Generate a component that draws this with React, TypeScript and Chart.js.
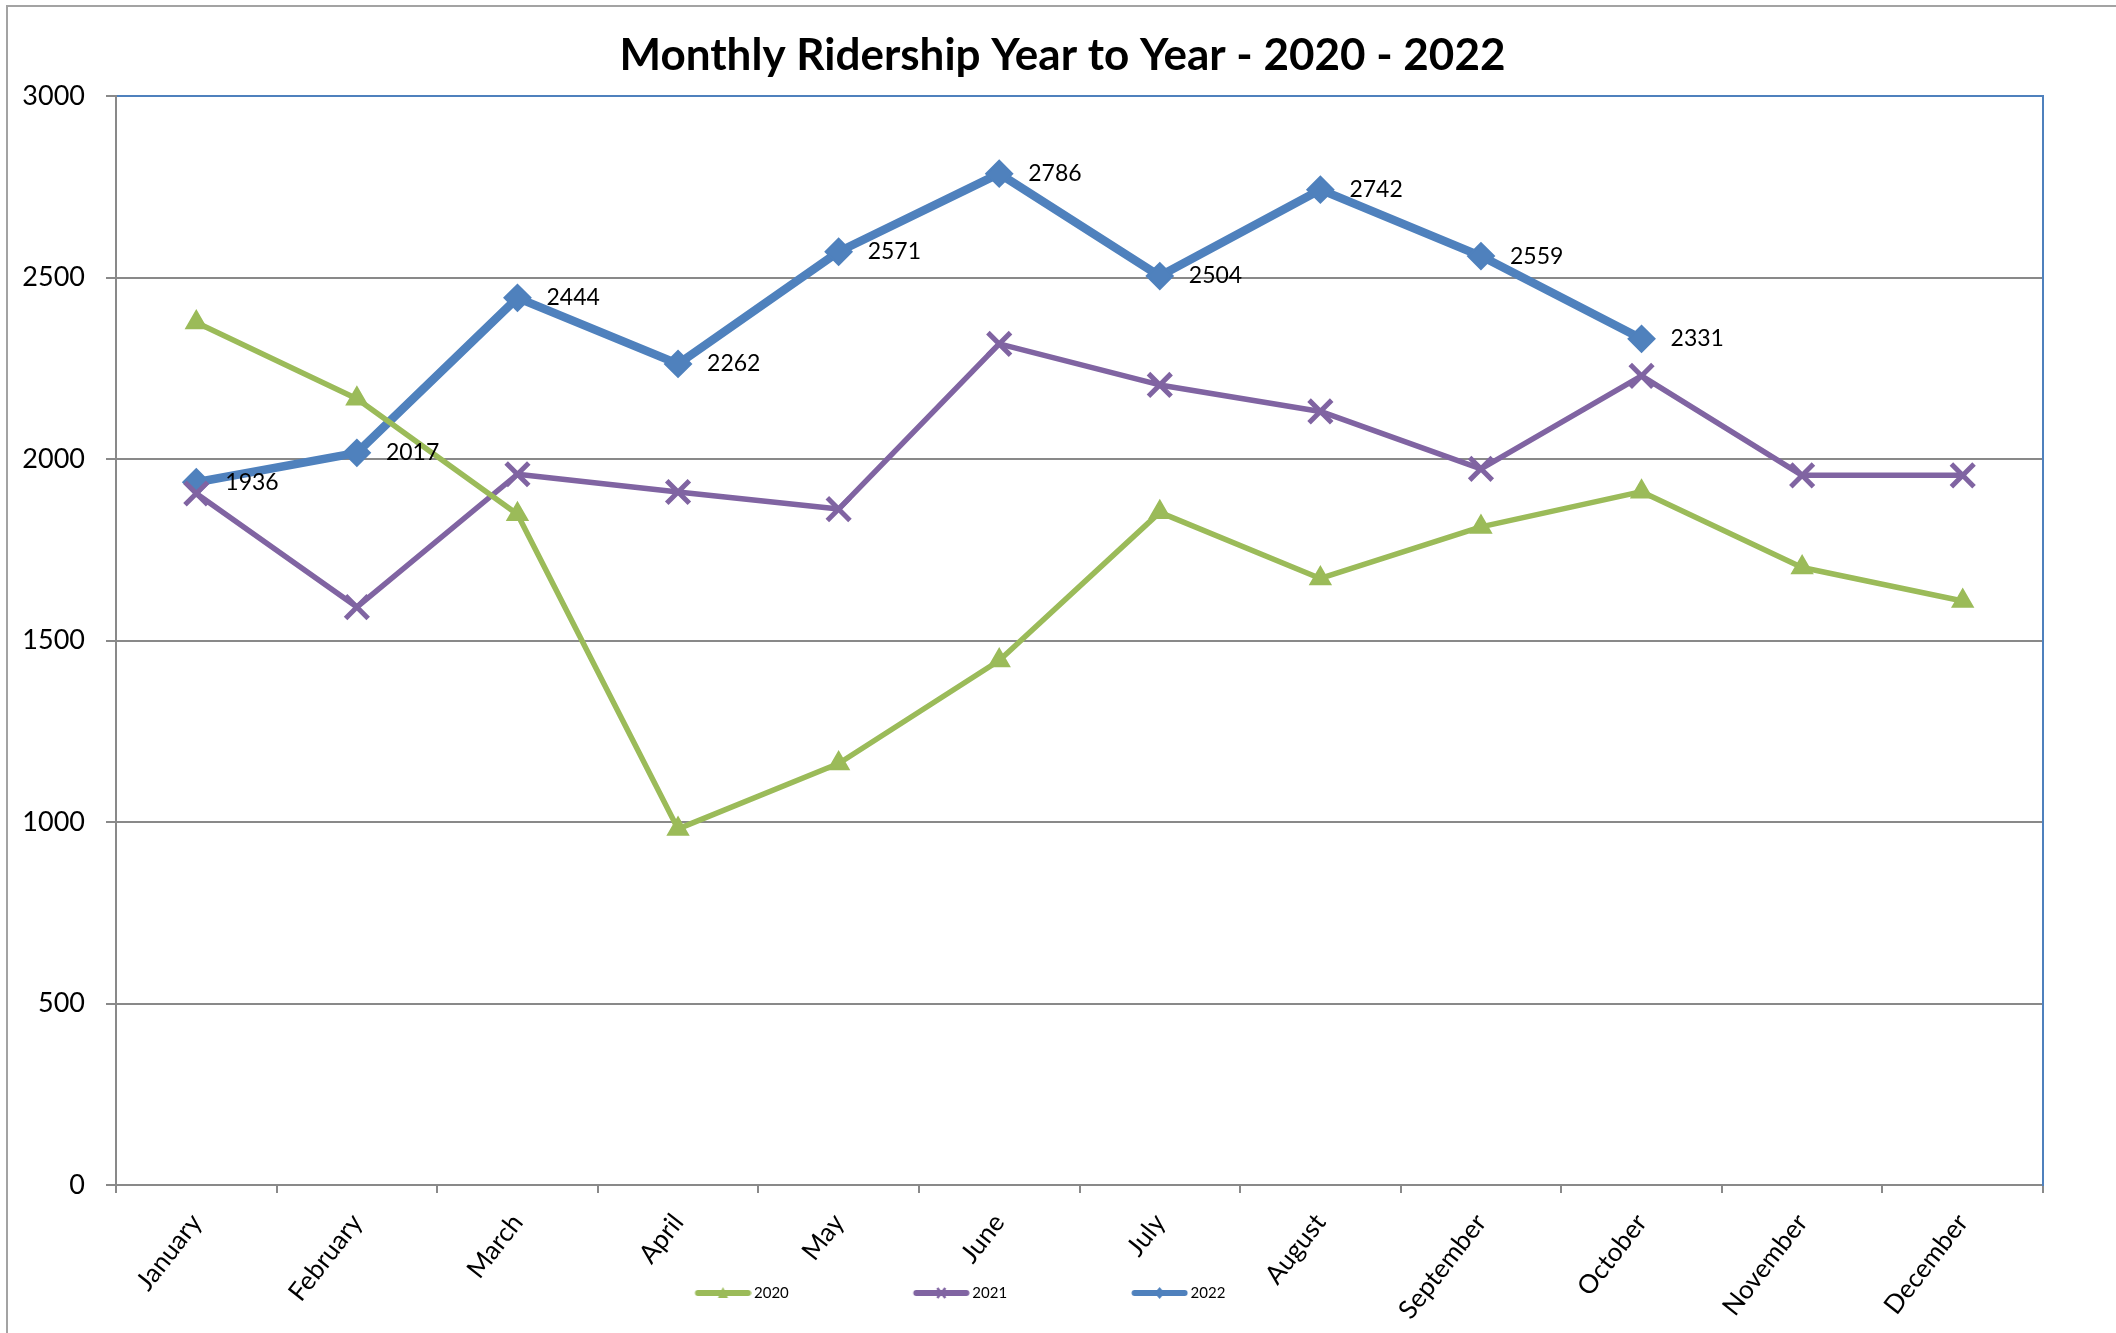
import React, { useEffect, useRef } from 'react';
import { Chart, registerables } from 'chart.js';

Chart.register(...registerables);

// ---------- data ----------
const MONTHS = [
  'January', 'February', 'March', 'April', 'May', 'June',
  'July', 'August', 'September', 'October', 'November', 'December',
];
const SERIES_NAMES = ['2020', '2021', '2022'];
const RIDERS_2020 = [2376, 2166, 1848, 981, 1161, 1445, 1853, 1671, 1813, 1910, 1701, 1609];
const RIDERS_2021 = [1905, 1592, 1958, 1909, 1862, 2317, 2204, 2131, 1973, 2229, 1955, 1955];
const RIDERS_2022: (number | null)[] = [1936, 2017, 2444, 2262, 2571, 2786, 2504, 2742, 2559, 2331, null, null];
const Y_MIN = 0;
const Y_MAX = 3000;
const Y_STEP = 500;
const TITLE = 'Monthly Ridership Year to Year - 2020 - 2022';

// ---------- styles ----------
const W = 2116;
const H = 1333;
const GREEN = '#9BBB59';
const PURPLE = '#8064A2';
const BLUE = '#4F81BD';
const GRID = '#898989';
const FONT = 'Lato';
const LEG_FS = 15;
const LEG_PAD = 5;
const LEG_TEXT0 = 754; // x where first legend text starts
const LEG_STEP = 218.3; // distance between legend text starts
const LEG_LINE_LEN = 56;
const LEG_LINE_GAP = 3; // gap between legend line end and text

function makeLegendImage(imgW: number, lineStart: number, lineEnd: number, color: string, marker: string) {
  const h = 16;
  const c = document.createElement('canvas');
  c.width = imgW;
  c.height = h;
  const g = c.getContext('2d')!;
  const cy = h / 2;
  g.strokeStyle = color;
  g.fillStyle = color;
  g.lineWidth = 6;
  g.lineCap = 'round';
  g.beginPath();
  g.moveTo(lineStart + 3, cy);
  g.lineTo(lineEnd - 3, cy);
  g.stroke();
  const mx = (lineStart + lineEnd) / 2;
  if (marker === 'triangle') {
    g.beginPath();
    g.moveTo(mx, cy - 6);
    g.lineTo(mx + 5, cy + 5);
    g.lineTo(mx - 5, cy + 5);
    g.closePath();
    g.fill();
  } else if (marker === 'cross') {
    g.lineWidth = 2.5;
    g.lineCap = 'butt';
    g.beginPath();
    g.moveTo(mx - 4, cy - 5);
    g.lineTo(mx + 4, cy + 5);
    g.moveTo(mx + 4, cy - 5);
    g.lineTo(mx - 4, cy + 5);
    g.stroke();
  } else {
    g.beginPath();
    g.moveTo(mx, cy - 6);
    g.lineTo(mx + 5, cy);
    g.lineTo(mx, cy + 6);
    g.lineTo(mx - 5, cy);
    g.closePath();
    g.fill();
  }
  return c;
}

export default function App() {
  const ref = useRef<HTMLCanvasElement | null>(null);

  useEffect(() => {
    const canvas = ref.current;
    if (!canvas) return;

    // legend geometry, measured from the real font
    const mctx = document.createElement('canvas').getContext('2d')!;
    mctx.font = `${LEG_FS}px ${FONT}`;
    const textW = mctx.measureText(SERIES_NAMES[0]).width;
    const B = Math.max(60, Math.round(LEG_STEP - LEG_FS / 2 - textW - LEG_PAD));
    const x0 = LEG_TEXT0 - LEG_FS / 2 - B; // first item box start
    const imgW = B + 10; // image spans [x0-5, x0+B+5]
    const lineEnd = LEG_TEXT0 - LEG_LINE_GAP - (x0 - 5);
    const lineStart = lineEnd - LEG_LINE_LEN;
    const colors = [GREEN, PURPLE, BLUE];
    const markers = ['triangle', 'cross', 'diamond'];
    const legendImgs = colors.map((c, i) => makeLegendImage(imgW, lineStart, lineEnd, c, markers[i]));

    const layoutTweak = {
      id: 'layoutTweak',
      afterLayout(chart: any) {
        const lg = chart.legend;
        if (lg) {
          const dx = x0 - LEG_PAD - lg.left;
          lg.left += dx;
          lg.right += dx;
        }
        // let the rotated month labels run below the axis box (they share the row with the legend)
        const xs = chart.scales.x;
        if (xs) xs.bottom = chart.height;
      },
    };

    const valueLabels = {
      id: 'valueLabels',
      afterDatasetsDraw(chart: any) {
        const meta = chart.getDatasetMeta(2);
        const ctx = chart.ctx;
        ctx.save();
        ctx.font = `23px ${FONT}`;
        ctx.fillStyle = '#000';
        ctx.textAlign = 'left';
        ctx.textBaseline = 'middle';
        meta.data.forEach((pt: any, i: number) => {
          const v = RIDERS_2022[i];
          if (v == null) return;
          ctx.fillText(String(v), pt.x + 29, pt.y);
        });
        ctx.restore();
      },
    };

    const chart = new Chart(canvas, {
      type: 'line',
      data: {
        labels: MONTHS,
        datasets: [
          {
            label: SERIES_NAMES[0],
            data: RIDERS_2020,
            borderColor: GREEN,
            backgroundColor: GREEN,
            borderWidth: 5.5,
            borderJoinStyle: 'round',
            tension: 0,
            pointStyle: 'triangle',
            pointRadius: 11.5,
            pointBorderWidth: 2,
            pointBackgroundColor: GREEN,
            pointBorderColor: GREEN,
          },
          {
            label: SERIES_NAMES[1],
            data: RIDERS_2021,
            borderColor: PURPLE,
            backgroundColor: PURPLE,
            borderWidth: 5.5,
            borderJoinStyle: 'round',
            tension: 0,
            pointStyle: 'crossRot',
            pointRadius: 16,
            pointBorderWidth: 5,
            pointBackgroundColor: PURPLE,
            pointBorderColor: PURPLE,
          },
          {
            label: SERIES_NAMES[2],
            data: RIDERS_2022,
            borderColor: BLUE,
            backgroundColor: BLUE,
            borderWidth: 8.5,
            borderJoinStyle: 'round',
            tension: 0,
            pointStyle: 'rectRot',
            pointRadius: 13,
            pointBorderWidth: 2,
            pointBackgroundColor: BLUE,
            pointBorderColor: BLUE,
          },
        ],
      },
      options: {
        animation: false,
        responsive: false,
        events: [],
        layout: { padding: { left: 9, right: 0, top: 0, bottom: 22.5 } },
        scales: {
          x: {
            type: 'category',
            offset: true,
            afterFit: (s: any) => { s.height = 95.5; },
            grid: {
              offset: true,
              drawOnChartArea: false,
              drawTicks: true,
              tickLength: 8,
              tickColor: GRID,
              tickWidth: 2,
              color: GRID,
              lineWidth: 2,
            },
            border: { display: true, color: GRID, width: 2 },
            ticks: {
              autoSkip: false,
              maxRotation: 52,
              minRotation: 52,
              padding: 15,
              color: '#000',
              font: { family: FONT, size: 26 },
            },
          },
          y: {
            type: 'linear',
            min: Y_MIN,
            max: Y_MAX,
            afterFit: (s: any) => { s.width = 107; },
            ticks: {
              stepSize: Y_STEP,
              padding: 21,
              color: '#000',
              font: { family: FONT, size: 27 },
              callback: (v: any) => String(v),
            },
            grid: {
              color: (c: any) => (c.tick && c.tick.value === Y_MAX ? BLUE : GRID),
              lineWidth: 2,
              drawTicks: true,
              tickLength: 10,
              tickColor: GRID,
              tickWidth: 2,
            },
            border: { display: true, color: GRID, width: 2 },
          },
          y2: {
            type: 'linear',
            position: 'right',
            afterFit: (s: any) => { s.width = 73; },
            ticks: { display: false },
            grid: { drawOnChartArea: false, drawTicks: false },
            border: { display: true, color: BLUE, width: 2 },
          },
        },
        plugins: {
          title: {
            display: true,
            text: TITLE,
            color: '#000',
            font: { family: FONT, size: 44, weight: 'bold' },
            padding: { top: 29.6, bottom: 13.6 },
          },
          legend: {
            display: true,
            position: 'bottom',
            align: 'start',
            labels: {
              usePointStyle: true,
              pointStyleWidth: B,
              padding: LEG_PAD,
              color: '#000',
              font: { family: FONT, size: LEG_FS },
              generateLabels: () =>
                SERIES_NAMES.map((name, i) => ({
                  text: name,
                  fillStyle: colors[i],
                  strokeStyle: colors[i],
                  lineWidth: 0,
                  pointStyle: legendImgs[i],
                  hidden: false,
                  datasetIndex: i,
                  fontColor: '#000',
                })),
            },
          },
          tooltip: { enabled: false },
        },
      } as any,
      plugins: [layoutTweak, valueLabels],
    });

    return () => chart.destroy();
  }, []);

  return (
    <div
      style={{
        position: 'fixed',
        left: 0,
        top: 0,
        width: W,
        height: H,
        overflow: 'hidden',
        background: '#fff',
      }}
    >
      <div
        style={{
          position: 'absolute',
          left: 6,
          top: 5,
          width: W + 20,
          height: H + 20,
          borderTop: '2px solid #a3a3a3',
          borderLeft: '2px solid #a3a3a3',
        }}
      />
      <canvas
        ref={ref}
        width={W}
        height={H}
        style={{ position: 'absolute', left: 0, top: 0, width: W, height: H }}
      />
    </div>
  );
}
